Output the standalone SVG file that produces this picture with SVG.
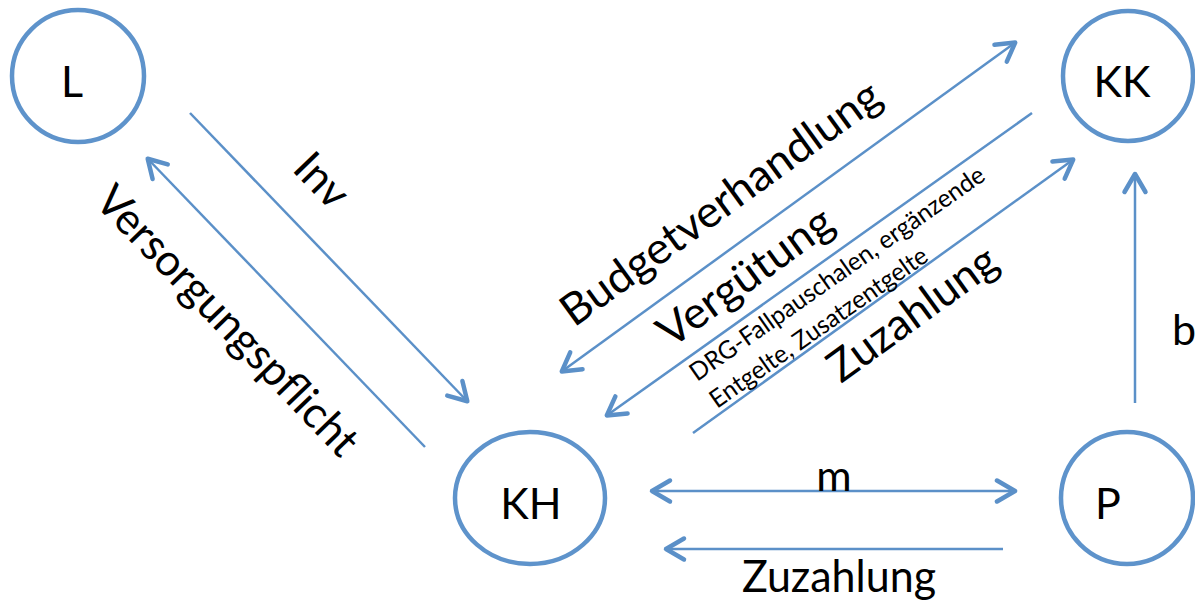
<svg xmlns="http://www.w3.org/2000/svg" width="1195" height="602" viewBox="0 0 1195 602">
  <style>
    .node { fill: #ffffff; stroke: #5e93cb; stroke-width: 4.5; }
    .lbl { font-family: Lato, "Open Sans", "Liberation Sans", sans-serif; font-size: 43px; fill: #000000; }
    .big { font-family: Lato, "Open Sans", "Liberation Sans", sans-serif; font-size: 44px; fill: #000000; }
    .small { font-family: Lato, "Open Sans", "Liberation Sans", sans-serif; font-size: 25px; fill: #000000; }
    .conn { stroke: #5b90c8; stroke-width: 2.5; fill: none; }
  </style>
  <defs>
    <marker id="arrow" markerUnits="userSpaceOnUse" markerWidth="30" markerHeight="30" viewBox="-25 -15 30 30" refX="0" refY="0" orient="auto-start-reverse" overflow="visible">
      <path d="M-19,-10.5 L-1,0 L-19,10.5" fill="none" stroke="#5b90c8" stroke-width="4.5" stroke-linecap="round" stroke-linejoin="round"/>
    </marker>
  </defs>

  <!-- nodes -->
  <g id="node-L">
    <circle class="node" cx="78" cy="76" r="66"/>
    <text class="lbl" x="72" y="97" text-anchor="middle">L</text>
  </g>
  <g id="node-KK">
    <circle class="node" cx="1128" cy="76" r="65"/>
    <text class="lbl" x="1122" y="97" text-anchor="middle">KK</text>
  </g>
  <g id="node-KH">
    <ellipse class="node" cx="530" cy="498" rx="75" ry="66"/>
    <text class="lbl" x="531" y="519" text-anchor="middle">KH</text>
  </g>
  <g id="node-P">
    <circle class="node" cx="1127" cy="498" r="66"/>
    <text class="lbl" x="1108" y="519" text-anchor="middle">P</text>
  </g>

  <!-- connectors -->
  <g id="connectors">
    <line class="conn" x1="190" y1="113" x2="468" y2="402" marker-end="url(#arrow)"/>
    <line class="conn" x1="425" y1="447" x2="147" y2="158" marker-end="url(#arrow)"/>
    <line class="conn" x1="561" y1="372" x2="1016" y2="42" marker-start="url(#arrow)" marker-end="url(#arrow)"/>
    <line class="conn" x1="1032" y1="113" x2="606" y2="416" marker-end="url(#arrow)"/>
    <line class="conn" x1="693" y1="433" x2="1074" y2="159" marker-end="url(#arrow)"/>
    <line class="conn" x1="1135" y1="403" x2="1135" y2="173" marker-end="url(#arrow)"/>
    <line class="conn" x1="651" y1="491" x2="1016" y2="491" marker-start="url(#arrow)" marker-end="url(#arrow)"/>
    <line class="conn" x1="1003" y1="549" x2="665" y2="549" marker-end="url(#arrow)"/>
  </g>

  <!-- connector labels -->
  <g id="labels">
    <text class="big" transform="translate(291,170) rotate(46)" textLength="58" lengthAdjust="spacingAndGlyphs">Inv</text>
    <text class="big" transform="translate(93,203) rotate(46)" textLength="356" lengthAdjust="spacingAndGlyphs">Versorgungspflicht</text>
    <text class="big" transform="translate(574,328) rotate(-36)" textLength="384" lengthAdjust="spacingAndGlyphs">Budgetverhandlung</text>
    <text class="big" transform="translate(671,349) rotate(-36)" textLength="205" lengthAdjust="spacingAndGlyphs">Vergütung</text>
    <text class="small" transform="translate(697,382) rotate(-35)" textLength="354" lengthAdjust="spacingAndGlyphs">DRG-Fallpauschalen, ergänzende</text>
    <text class="small" transform="translate(717,409) rotate(-35)" textLength="260" lengthAdjust="spacingAndGlyphs">Entgelte, Zusatzentgelte</text>
    <text class="big" transform="translate(841,384) rotate(-36)" textLength="198" lengthAdjust="spacingAndGlyphs">Zuzahlung</text>
    <text class="lbl" x="1172" y="345">b</text>
    <text class="lbl" x="834" y="491" text-anchor="middle">m</text>
    <text class="big" x="742" y="592" textLength="194" lengthAdjust="spacingAndGlyphs">Zuzahlung</text>
  </g>
</svg>
